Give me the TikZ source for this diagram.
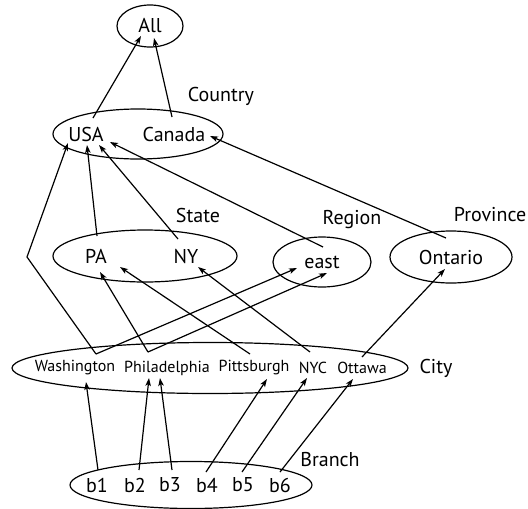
\documentclass[tikz,border=0pt]{standalone}
\usepackage{fontspec}
\setmainfont{PT Sans}
\usetikzlibrary{shapes.geometric,arrows.meta}
\begin{document}
\begin{tikzpicture}[x=1pt,y=-1pt,
  group/.style={draw,ellipse,line width=1.2pt,inner sep=0pt},
  item/.style={inner sep=0pt,font=\fontsize{20}{20}\selectfont},
  small/.style={inner sep=0pt,font=\fontsize{16}{16}\selectfont},
  level/.style={inner sep=0pt,font=\fontsize{20}{20}\selectfont},
  link/.style={line width=1.2pt,-{Stealth[length=8pt,width=5.5pt,inset=2pt]}}]
\useasboundingbox (0,0) rectangle (528,509);

% level ellipses
\node[group,minimum width=66pt,minimum height=42pt] (allE) at (150,26) {};
\node[group,minimum width=170pt,minimum height=50pt] (countryE) at (138,134) {};
\node[group,minimum width=184pt,minimum height=52pt] (stateE) at (145,256) {};
\node[group,minimum width=98pt,minimum height=50pt] (regionE) at (322,262) {};
\node[group,minimum width=122pt,minimum height=52pt] (provE) at (451,257) {};
\node[group,minimum width=396pt,minimum height=51pt] (cityE) at (210,368) {};
\node[group,minimum width=242pt,minimum height=47pt] (branchE) at (191,485) {};

% member names
\node[item] (all) at (150,26) {All};
\node[item] (usa) at (86,134) {USA};
\node[item] (canada) at (174,134) {Canada};
\node[item] (pa) at (96,256) {PA};
\node[item] (ny) at (186,256) {NY};
\node[item] (east) at (322,262) {east};
\node[item] (ontario) at (451,257) {Ontario};
\node[small] (wash) at (75,368) {Washington};
\node[small] (phil) at (167,368) {Philadelphia};
\node[small] (pitt) at (254,368) {Pittsburgh};
\node[small] (nyc) at (313,368) {NYC};
\node[small] (ott) at (362,368) {Ottawa};
\node[item] (b1) at (97,485) {b1};
\node[item] (b2) at (135,485) {b2};
\node[item] (b3) at (170,485) {b3};
\node[item] (b4) at (207,485) {b4};
\node[item] (b5) at (243,485) {b5};
\node[item] (b6) at (280,485) {b6};

% level names
\node[level] (lCountry) at (221,96) {Country};
\node[level] (lState) at (198,215) {State};
\node[level] (lRegion) at (352,220) {Region};
\node[level] (lProv) at (490,215) {Province};
\node[level] (lCity) at (436,368) {City};
\node[level] (lBranch) at (330,460) {Branch};

% connector ends
\coordinate (allL) at (141,36);
\coordinate (allR) at (154,38);
\coordinate (usaOut) at (93,118);
\coordinate (canOut) at (172,117);
\coordinate (usaIn1) at (68,143);
\coordinate (usaIn2) at (87,145);
\coordinate (usaIn3) at (99,145);
\coordinate (usaIn4) at (110,142);
\coordinate (canIn) at (210,136);
\coordinate (paOut) at (97,236);
\coordinate (nyOut) at (178,239);
\coordinate (eastOut) at (323,247);
\coordinate (ontOut) at (446,238);
\coordinate (paIn1) at (100,272);
\coordinate (paIn2) at (120,267);
\coordinate (nyIn) at (198,267);
\coordinate (eastIn1) at (297,268);
\coordinate (eastIn2) at (327,273);
\coordinate (ontIn) at (445,269);
\coordinate (bend) at (27,257);
\coordinate (washOut) at (96,354);
\coordinate (philOut) at (148,352);
\coordinate (pittOut) at (250,354);
\coordinate (nycOut) at (310,352);
\coordinate (ottOut) at (362,357);
\coordinate (washIn) at (86,382);
\coordinate (philIn1) at (149,378);
\coordinate (philIn2) at (160,378);
\coordinate (pittIn) at (267,379);
\coordinate (nycIn) at (307,378);
\coordinate (ottIn) at (353,379);
\coordinate (b1Out) at (98,470);
\coordinate (b2Out) at (139,470);
\coordinate (b3Out) at (172,470);
\coordinate (b4Out) at (206,472);
\coordinate (b5Out) at (242,472);
\coordinate (b6Out) at (280,472);

% country -> all
\draw[link] (usaOut) -- (allL);
\draw[link] (canOut) -- (allR);
% state / region / province -> country
\draw[link] (paOut) -- (usaIn2);
\draw[link] (nyOut) -- (usaIn3);
\draw[link] (eastOut) -- (usaIn4);
\draw[link] (ontOut) -- (canIn);
% city -> upper levels
\draw[link] (washOut) -- (bend) -- (usaIn1);
\draw[link] (washOut) -- (eastIn1);
\draw[link] (philOut) -- (paIn1);
\draw[link] (philOut) -- (eastIn2);
\draw[link] (pittOut) -- (paIn2);
\draw[link] (nycOut) -- (nyIn);
\draw[link] (ottOut) -- (ontIn);
% branch -> city
\draw[link] (b1Out) -- (washIn);
\draw[link] (b2Out) -- (philIn1);
\draw[link] (b3Out) -- (philIn2);
\draw[link] (b4Out) -- (pittIn);
\draw[link] (b5Out) -- (nycIn);
\draw[link] (b6Out) -- (ottIn);
\end{tikzpicture}
\end{document}
